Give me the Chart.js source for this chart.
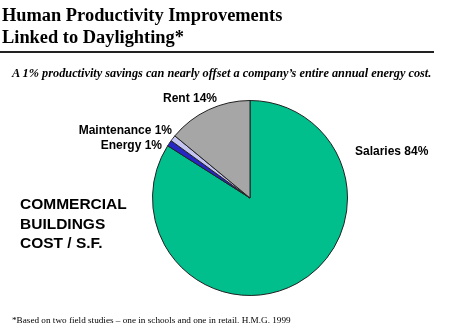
<!DOCTYPE html>
<html>
<head>
<meta charset="utf-8">
<script src="https://cdn.jsdelivr.net/npm/chart.js@4/dist/chart.umd.min.js"></script>
<style>
  body { margin: 0; background: #fff; }
  #wrap { position: relative; width: 450px; height: 333px; overflow: hidden; }
  #chart { position: absolute; left: 0; top: 0; }
  .title { position: absolute; left: 2px; top: 4px; font: bold 18.4px "Liberation Serif", serif; line-height: 22px; color: #000; }
  .rule { position: absolute; left: 0; top: 51px; width: 434px; height: 0; border-top: 2px solid #222; }
  .sub { position: absolute; left: 12px; top: 66px; font: italic bold 12.3px "Liberation Serif", serif; color: #000; white-space: nowrap; }
  .note { position: absolute; left: 12px; top: 315px; font: 9.2px "Liberation Serif", serif; color: #000; white-space: nowrap; }
  .big { position: absolute; left: 20px; top: 194px; font: bold 15.5px "Liberation Sans", Arial, sans-serif; line-height: 19.5px; color: #000; }
</style>
</head>
<body>
<div id="wrap">
  <canvas id="chart" width="450" height="333"></canvas>
  <div class="title">Human Productivity Improvements<br>Linked to Daylighting*</div>
  <div class="rule"></div>
  <div class="sub">A 1% productivity savings can nearly offset a company’s entire annual energy cost.</div>
  <div class="big">COMMERCIAL<br>BUILDINGS<br>COST / S.F.</div>
  <div class="note">*Based on two field studies – one in schools and one in retail. H.M.G. 1999</div>
</div>
<script>
const categories = ['Salaries', 'Energy', 'Maintenance', 'Rent'];
const shares = [84, 1, 1, 14];
const colors = ['#00bf8c', '#2626c4', '#c4c4f2', '#a6a6a6'];

// label placement relative to pie centre: [dx, dy, align]
const labelSpots = {
  Salaries: [105, -46, 'left'],
  Energy: [-88, -52, 'right'],
  Maintenance: [-78, -67, 'right'],
  Rent: [-60, -99, 'center']
};

const sliceLabels = {
  id: 'sliceLabels',
  afterDatasetsDraw(chart) {
    const ctx = chart.ctx;
    const arc = chart.getDatasetMeta(0).data[0];
    ctx.save();
    ctx.font = 'bold 12px "Liberation Sans", Arial, sans-serif';
    ctx.fillStyle = '#000';
    ctx.textBaseline = 'middle';
    categories.forEach((c, i) => {
      const s = labelSpots[c];
      ctx.textAlign = s[2];
      ctx.fillText(c + ' ' + shares[i] + '%', arc.x + s[0], arc.y + s[1]);
    });
    ctx.restore();
  }
};

new Chart(document.getElementById('chart'), {
  type: 'pie',
  data: {
    labels: categories,
    datasets: [{
      data: shares,
      backgroundColor: colors,
      borderColor: '#222',
      borderWidth: 1
    }]
  },
  options: {
    responsive: false,
    animation: false,
    layout: { padding: { left: 152, right: 102, top: 100, bottom: 37 } },
    plugins: { legend: { display: false }, tooltip: { enabled: false } }
  },
  plugins: [sliceLabels]
});
</script>
</body>
</html>
